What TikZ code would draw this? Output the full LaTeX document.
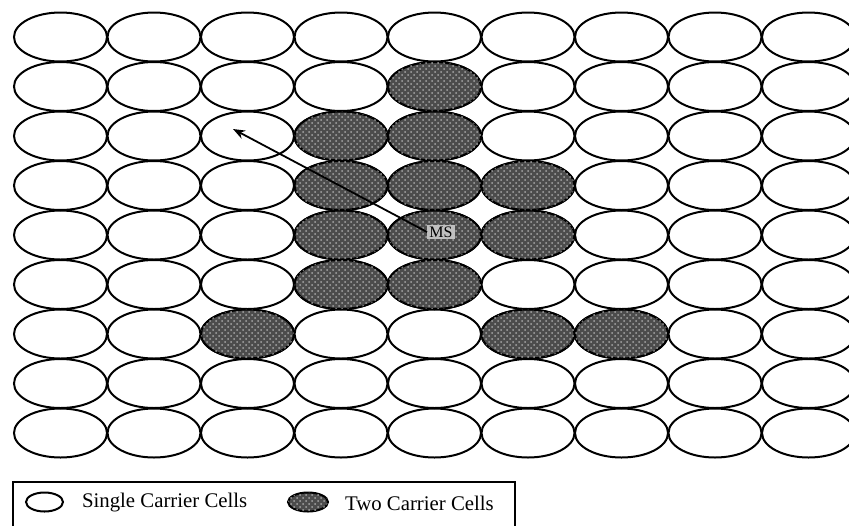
\documentclass[tikz,border=0pt]{standalone}
\usepackage{fontspec}
\setmainfont{Liberation Serif}
\usetikzlibrary{shapes.geometric,arrows.meta,patterns}

\tikzset{
  cell/.style={ellipse,draw,line width=1pt,inner sep=0pt,
    minimum width=46.5pt,minimum height=24.5pt},
  twocell/.style={cell,fill=black!70,
    postaction={pattern=crosshatch dots,pattern color=white!65!black}},
  keytext/.style={anchor=west,font=\fontsize{10.4}{12}\selectfont},
}

\begin{document}
\begin{tikzpicture}[x=0.5pt,y=-0.5pt]
\useasboundingbox (0,0) rectangle (849,525);
% single carrier cells, 9 x 9
\foreach \c in {0,...,8}
  \foreach \r in {0,...,8}
    \node[cell] (c-\c-\r) at (60.5+93.5*\c,37+49.5*\r) {};
% two carrier cells
\foreach \c/\r in {4/1,3/2,4/2,3/3,4/3,5/3,3/4,4/4,5/4,3/5,4/5,2/6,5/6,6/6}
  \node[twocell] (t-\c-\r) at (c-\c-\r) {};
% mobile station and its move
\node[font=\fontsize{8}{9}\selectfont,fill=black!25,inner sep=1pt] (ms) at (441,232) {MS};
\coordinate (tip) at (233,129);
\draw[-{Stealth[length=6pt,width=4.5pt]},line width=0.9pt] (ms.west) -- (tip);
% legend (frame runs off the bottom edge)
\draw[line width=0.8pt] (13,540) |- (515,482) -- (515,540);
\node[cell,minimum width=18.5pt,minimum height=9.5pt] (key1) at (44.5,502) {};
\node[keytext] (lab1) at (75,503) {Single Carrier Cells};
\node[twocell,minimum width=20pt,minimum height=9.5pt] (key2) at (308,502) {};
\node[keytext] (lab2) at (338,503) {Two Carrier Cells};
\end{tikzpicture}
\end{document}
